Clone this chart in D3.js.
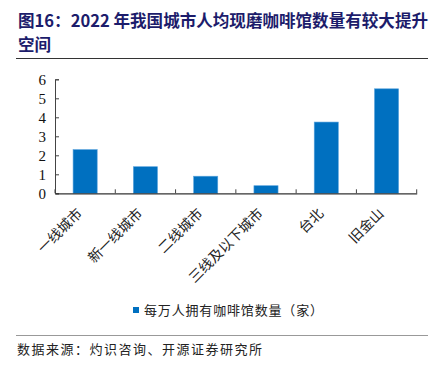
<!DOCTYPE html>
<html>
<head>
<meta charset="utf-8">
<script src="https://cdn.jsdelivr.net/npm/d3@7"></script>
<style>
  body { margin: 0; background: #fff; }
  svg { display: block; }
</style>
</head>
<body>
<svg id="chart" width="438" height="370"></svg>
<script>
// data
const categories = ['一线城市', '新一线城市', '二线城市', '三线及以下城市', '台北', '旧金山'];
const cafesPer10k = [2.3, 1.4, 0.9, 0.4, 3.75, 5.5];
const yTicks = [0, 1, 2, 3, 4, 5, 6];
const seriesName = '每万人拥有咖啡馆数量（家）';

const cjk = '"Noto Sans CJK SC", sans-serif';
const serif = '"Liberation Serif", "DejaVu Serif", serif';
const svg = d3.select('#chart');

// title
svg.append('text')
  .attr('x', 18).attr('y', 27)
  .attr('font-family', cjk).attr('font-weight', 'bold')
  .attr('font-size', 16.5).attr('fill', '#1c1c6b')
  .attr('textLength', 410).attr('lengthAdjust', 'spacingAndGlyphs')
  .text('图16：2022 年我国城市人均现磨咖啡馆数量有较大提升');
svg.append('text')
  .attr('x', 18).attr('y', 51)
  .attr('font-family', cjk).attr('font-weight', 'bold')
  .attr('font-size', 16.5).attr('fill', '#1c1c6b')
  .text('空间');
svg.append('line')
  .attr('x1', 16).attr('x2', 428).attr('y1', 58.5).attr('y2', 58.5)
  .attr('stroke', '#333').attr('stroke-width', 1.2);

const x = d3.scaleBand().domain(categories).range([55, 416.7]).paddingInner(0).paddingOuter(0);
const y = d3.scaleLinear().domain([0, 6]).range([193.3, 79.3]);

// bars
svg.append('g').selectAll('rect')
  .data(cafesPer10k)
  .enter().append('rect')
  .attr('x', (d, i) => x(categories[i]) + x.bandwidth() * 0.3)
  .attr('width', x.bandwidth() * 0.4)
  .attr('y', d => y(d))
  .attr('height', d => y(0) - y(d))
  .attr('fill', '#0070c0')
  .attr('stroke', '#5aa3dc').attr('stroke-width', 0.6);

// y axis
const yAxis = svg.append('g').attr('transform', 'translate(55,0)')
  .call(d3.axisRight(y).tickValues(yTicks).tickSize(4).tickFormat(d3.format('d')));
yAxis.select('.domain').attr('stroke', '#444');
yAxis.selectAll('.tick line').attr('stroke', '#444');
yAxis.selectAll('.tick text')
  .attr('x', -9).attr('text-anchor', 'end')
  .attr('font-family', serif).attr('font-size', 15).attr('fill', '#111');

// x axis
const xAxis = svg.append('g').attr('transform', 'translate(0,' + y(0) + ')')
  .call(d3.axisBottom(x).tickSize(0).tickFormat(''));
xAxis.select('.domain').attr('stroke', '#333').attr('stroke-width', 1.2);
const bounds = [55].concat(categories.map(c => x(c) + x.bandwidth()));
xAxis.selectAll('.sep').data(bounds).enter().append('line')
  .attr('x1', d => d).attr('x2', d => d).attr('y1', 0).attr('y2', -4)
  .attr('stroke', '#444');

// category labels, rotated
svg.append('g').selectAll('text')
  .data(categories)
  .enter().append('text')
  .attr('transform', d => 'translate(' + (x(d) + x.bandwidth() / 2 - 2) + ',' + (y(0) + 21) + ') rotate(-45)')
  .attr('text-anchor', 'end')
  .attr('font-family', cjk).attr('font-size', 14).attr('fill', '#222')
  .text(d => d);

// legend
svg.append('rect')
  .attr('x', 133).attr('y', 307).attr('width', 6).attr('height', 6)
  .attr('fill', '#0070c0');
svg.append('text')
  .attr('x', 144).attr('y', 315)
  .attr('font-family', cjk).attr('font-size', 13).attr('fill', '#222')
  .attr('textLength', 179).attr('lengthAdjust', 'spacing')
  .text(seriesName);

// source
svg.append('line')
  .attr('x1', 16).attr('x2', 428).attr('y1', 335.5).attr('y2', 335.5)
  .attr('stroke', '#999').attr('stroke-width', 1.2);
svg.append('text')
  .attr('x', 17).attr('y', 354)
  .attr('font-family', cjk).attr('font-size', 13).attr('fill', '#222')
  .attr('textLength', 245).attr('lengthAdjust', 'spacing')
  .text('数据来源：灼识咨询、开源证券研究所');
</script>
</body>
</html>
